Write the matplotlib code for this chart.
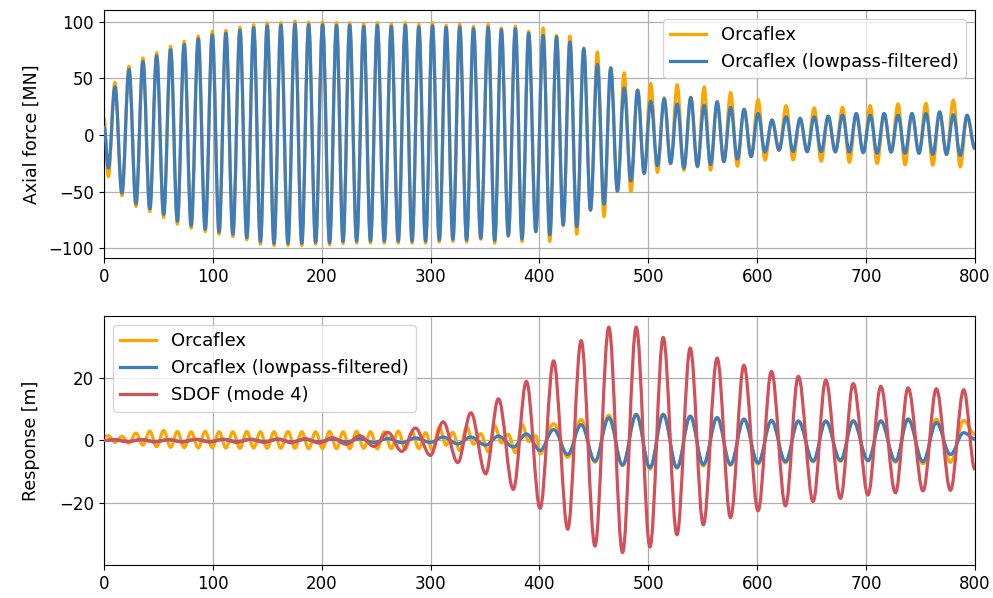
import matplotlib
matplotlib.use("Agg")
import matplotlib.pyplot as plt
from matplotlib.path import Path
from matplotlib.patches import PathPatch
from matplotlib.lines import Line2D

# extrema times [s] of the axial-force oscillation (start, trough, peak, trough, ..., end)
t_ext = [0, 4.0, 10.1, 16.5, 23.0, 29.4, 35.8, 42.1, 48.4, 54.8, 61.2, 67.4, 73.7, 80.1,
         86.6, 93.0, 99.5, 105.7, 112.0, 118.4, 124.9, 131.2, 137.5, 143.7, 149.9, 156.2,
         162.5, 169.0, 175.4, 181.7, 188.0, 194.4, 200.8, 207.2, 213.6, 219.6, 225.7, 232.1,
         238.6, 244.8, 251.1, 257.5, 263.9, 270.3, 276.8, 283.0, 289.2, 295.4, 301.7, 308.0,
         314.3, 320.5, 326.8, 333.1, 339.4, 346.1, 352.9, 358.9, 365.0, 371.4, 377.9, 384.0,
         390.1, 396.7, 403.4, 409.5, 415.7, 421.8, 428.0, 434.3, 440.7, 446.9, 453.2, 459.3,
         465.5, 471.6, 477.8, 484.0, 490.2, 496.2, 502.2, 508.4, 514.6, 520.5, 526.5, 532.7,
         539.0, 545.1, 551.3, 557.2, 563.2, 569.4, 575.6, 581.8, 588.0, 594.4, 600.8, 607.2,
         613.6, 620.1, 626.6, 633.0, 639.4, 645.9, 652.4, 658.8, 665.2, 671.8, 678.4, 684.7,
         691.0, 697.4, 703.8, 710.2, 716.6, 723.0, 729.4, 735.8, 742.2, 748.6, 755.0, 761.3,
         767.6, 773.9, 780.2, 786.5, 792.8, 800]

# axial force [MN], Orcaflex
force_orca = [15, -36.7, 46.4, -53.4, 60.8, -63.1, 68.1, -67.5, 72.8, -72.8, 78.4, -78.7,
              82.8, -82.2, 87.5, -85.2, 91.6, -87.5, 92.5, -89.6, 95.2, -92.5, 97.5, -96.3,
              99.3, -97.5, 99.3, -97.5, 100.7, -97.5, 99.8, -96.3, 99.9, -96.9, 99.3, -95.7,
              99.3, -95.4, 98.4, -95.4, 99.3, -95.4, 98.1, -95.4, 99.3, -95.4, 97.8, -95.4,
              99.3, -94.5, 97.0, -93.9, 97.8, -94.5, 96.1, -92.0, 97.8, -95.4, 94.6, -89.5,
              96.3, -94.0, 91.6, -85.5, 94.6, -94.0, 88.0, -80.0, 87.5, -87.5, 77.0, -66.5,
              73.4, -72.0, 59.5, -50.0, 55.0, -49.9, 40.0, -34.0, 45.5, -33.0, 33.0, -25.0,
              44.5, -31.0, 33.5, -28.0, 42.6, -31.0, 29.5, -23.5, 37.6, -27.5, 23.0, -19.0,
              31.4, -22.0, 13.5, -13.5, 26.0, -22.0, 15.0, -14.5, 24.0, -23.0, 16.5, -15.0,
              24.5, -24.0, 19.0, -15.5, 26.0, -25.0, 19.0, -15.0, 27.5, -26.0, 19.0, -16.0,
              28.0, -26.5, 20.0, -17.0, 31.0, -28.0, 17.0, -12]

# axial force [MN], Orcaflex lowpass-filtered
force_filt = [8, -29, 42.6, -51, 58, -60.5, 65, -65, 70, -70, 75.5, -76, 80, -80, 85, -83,
              88.5, -85.5, 90, -87.5, 92.5, -90.5, 95, -94, 96.5, -95.5, 97, -95.5, 98, -95.5,
              97.5, -94.5, 97.5, -95, 97, -94, 97, -93.5, 96, -93.5, 97, -93.5, 96, -93.5,
              97, -93.5, 95.5, -93.5, 96.5, -92.5, 95, -92, 95.5, -92.5, 94, -91, 95, -93,
              93, -88.7, 94, -91.5, 90, -85.2, 88, -88.1, 86.7, -79.3, 82.2, -80.8, 76.3, -66.1,
              62.3, -61, 59.3, -49.3, 41.5, -40.5, 39.6, -33.7, 30, -27, 32, -25, 27.5, -29,
              33.2, -27.5, 26.5, -26, 29.4, -23.5, 24.5, -21, 22.6, -19, 19.1, -15, 13.2, -13.2,
              16.2, -14.5, 14.7, -14.7, 16.2, -14.7, 16.7, -14.7, 17.6, -15, 19.1, -15.5,
              17.6, -16, 19.1, -15, 17.6, -16, 19.1, -16, 19.1, -17, 20.6, -17, 18, -18, 17.6, -12]

# extrema times [s] of the mode-4 response (start, peak, trough, ..., end)
t_sdof = [0, 9.1, 21.7, 34.2, 46.8, 59.3, 71.9, 84.4, 97.0, 109.5, 122.1, 134.6, 147.2, 159.7,
          172.3, 184.8, 197.4, 209.9, 222.5, 235.0, 248.0, 260.8, 273.5, 286.0, 299.8, 311.5,
          325.0, 337.0, 350.6, 362.3, 376.0, 388.0, 400.6, 413.0, 426.0, 438.3, 451.0, 463.7,
          476.3, 488.9, 501.5, 513.7, 526.3, 538.5, 550.5, 563.2, 575.5, 587.8, 600.8, 613.1,
          626.0, 637.8, 651.4, 663.0, 676.5, 688.2, 701.8, 713.5, 727.0, 738.6, 752.3, 764.6,
          777.5, 789.7, 800]

# response [m], SDOF (mode 4)
resp_sdof = [0.0, 0.3, -0.4, 0.3, -0.5, 0.3, -0.5, 0.4, -0.5, 0.4, -0.6, 0.4, -0.6, 0.5, -0.7,
             0.6, -0.8, 0.9, -1.2, 1.5, -1.9, 2.6, -3.5, 4.0, -4.8, 6.0, -7.1, 8.9, -10.7, 13.4,
             -15.7, 19.0, -21.8, 25.6, -28.5, 32.1, -33.9, 36.4, -36.0, 36.4, -34.2, 33.1, -30.3,
             29.7, -27.1, 26.5, -24.8, 24.2, -22.6, 22.2, -21.0, 20.6, -19.6, 19.4, -18.6, 18.3,
             -17.5, 17.4, -16.8, 16.9, -16.2, 16.6, -16.0, 16.3, -9.3]

# response [m], Orcaflex lowpass-filtered
resp_filt = [0.0, 0.2, -0.3, 0.2, -0.3, 0.2, -0.3, 0.3, -0.3, 0.3, -0.3, 0.3, -0.3, 0.3, -0.4,
             0.3, -0.4, 0.4, -0.4, 0.5, -0.6, 0.6, -0.7, 0.8, -0.6, 1.1, -1.1, 1.1, -1.5, 1.4,
             -2.1, 2.1, -3.2, 3.5, -4.5, 5.1, -6.6, 7.3, -7.9, 8.3, -8.7, 8.3, -8.7, 7.8, -7.7,
             7.3, -7.7, 6.8, -7.2, 6.4, -6.8, 6.2, -6.6, 6.2, -6.4, 6.2, -6.4, 6.2, -6.6, 6.8,
             -6.8, 5.7, -4.5, 2.5, 0.5]

# response [m], Orcaflex: wave-frequency part (on t_ext[:64]) then mode-4 part (on t_sdof[32:])
resp_orca_early = [1.3, 1.5, -0.6, 1.3, -0.8, 2.4, -1.5, 3.0, -2.0, 3.2, -2.2, 2.9, -2.3, 2.8,
                   -2.4, 2.9, -2.3, 2.8, -2.4, 2.8, -2.5, 2.9, -2.4, 2.8, -2.5, 2.8, -2.5, 2.9,
                   -2.5, 2.8, -2.6, 2.8, -2.5, 2.9, -2.6, 2.8, -2.6, 2.9, -2.5, 2.8, -2.7, 2.8,
                   -2.6, 3.0, -2.8, 2.8, -2.6, 2.5, -3.2, 4.3, -1.5, 2.6, -3.3, 4.4, -1.2, 2.2,
                   -3.6, 4.8, -0.8, 2.0, -3.9, 5.2, -0.3, 1.5]
resp_orca_late = [-4.3, 5.4, -5.4, 6.7, -7.0, 8.1, -8.1, 8.5, -9.2, 8.5, -8.9, 7.8, -8.2, 7.4,
                  -8.0, 6.9, -7.6, 6.5, -7.2, 6.3, -6.9, 6.3, -6.7, 6.4, -6.6, 6.4, -7.0, 7.0,
                  -7.5, 6.8, -7.0, 6.4, 2.0]

c_orange = "#ffa500"
c_blue = "#3b7dbd"
c_red = "#d1505a"


def wave(ax, t, y, **kw):
    # smooth curve through the extrema, horizontal tangent at each one
    verts, codes = [(t[0], y[0])], [Path.MOVETO]
    for i in range(1, len(t)):
        h = (t[i] - t[i - 1]) * 0.364
        verts += [(t[i - 1] + h, y[i - 1]), (t[i] - h, y[i]), (t[i], y[i])]
        codes += [Path.CURVE4] * 3
    ax.add_patch(PathPatch(Path(verts, codes), fill=False, capstyle="butt", joinstyle="round", **kw))


plt.rcParams["font.size"] = 12.5
plt.rcParams["xtick.labelsize"] = 12
plt.rcParams["ytick.labelsize"] = 12
fig = plt.figure(figsize=(9.93, 5.98), dpi=100)
ax1 = fig.add_axes([0.1047, 0.5686, 0.8771, 0.4147])
ax2 = fig.add_axes([0.1047, 0.0552, 0.8771, 0.4164])

lw = 2.3
wave(ax1, t_ext, force_orca, color=c_orange, lw=lw, zorder=2)
wave(ax1, t_ext, force_filt, color=c_blue, lw=lw, zorder=3)
ax1.set_xlim(0, 800); ax1.set_ylim(-108.5, 110.5)
ax1.set_yticks([-100, -50, 0, 50, 100])
ax1.set_ylabel("Axial force [MN]", labelpad=6)
ax1.grid(True, color="#b0b0b0", lw=0.9)
ax1.legend(handles=[Line2D([], [], color=c_orange, lw=lw), Line2D([], [], color=c_blue, lw=lw)],
           labels=["Orcaflex", "Orcaflex (lowpass-filtered)"], loc="upper right", fontsize=13)

t_orca = t_ext[:64] + t_sdof[32:]
resp_orca = resp_orca_early + resp_orca_late
wave(ax2, t_orca, resp_orca, color=c_orange, lw=lw, zorder=2)
wave(ax2, t_sdof, resp_filt, color=c_blue, lw=lw, zorder=3)
wave(ax2, t_sdof, resp_sdof, color=c_red, lw=lw, zorder=4)
ax2.set_xlim(0, 800); ax2.set_ylim(-40, 40)
ax2.set_yticks([-20, 0, 20])
ax2.set_ylabel("Response [m]", labelpad=14)
ax2.grid(True, color="#b0b0b0", lw=0.9)
ax2.legend(handles=[Line2D([], [], color=c, lw=lw) for c in (c_orange, c_blue, c_red)],
           labels=["Orcaflex", "Orcaflex (lowpass-filtered)", "SDOF (mode 4)"], loc="upper left",
           fontsize=13)
for ax in (ax1, ax2):
    ax.set_xticks(range(0, 801, 100))

fig.savefig("out.png", dpi=100)
